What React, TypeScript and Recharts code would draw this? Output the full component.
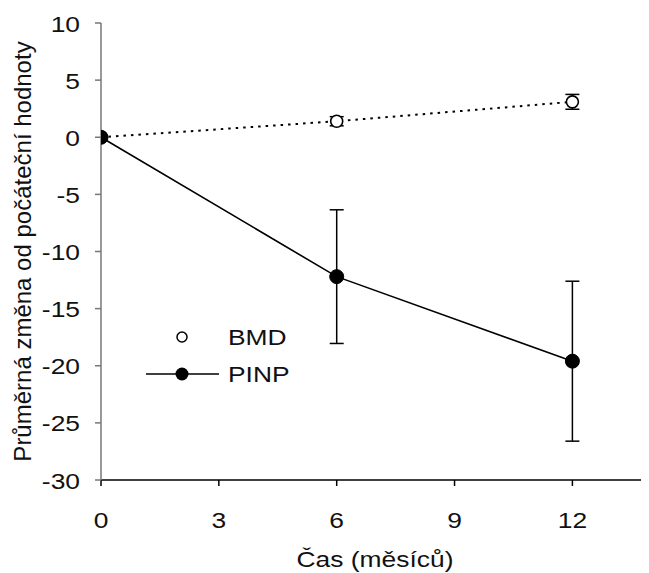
import React from 'react';
import { LineChart, Line, XAxis, YAxis, ErrorBar, Legend } from 'recharts';

const months = [0, 6, 12];
const bmdValues = [0, 1.4, 3.1];
const bmdErrors = [0, 0.4, 0.65];
const pinpValues = [0, -12.2, -19.6];
const pinpErrors = [0, 5.85, 7.0];
const xTicks = [0, 3, 6, 9, 12];
const yTicks = [-30, -25, -20, -15, -10, -5, 0, 5, 10];

const data = months.map((m, i) => ({
  month: m,
  bmd: bmdValues[i],
  bmdErr: bmdErrors[i],
  pinp: pinpValues[i],
  pinpErr: pinpErrors[i],
}));

const FONT = 'Liberation Sans, Arial, sans-serif';
const FS = 22;
const SX = 1.2;

const OpenDot = (props: any) => {
  const { cx, cy } = props;
  return <circle cx={cx} cy={cy} r={6} fill="#fff" stroke="#000" strokeWidth={1.6} />;
};
const FilledDot = (props: any) => {
  const { cx, cy } = props;
  return <circle cx={cx} cy={cy} r={7} fill="#000" stroke="#000" strokeWidth={1} />;
};

const WideText = ({ x, y, anchor, children }: any) => (
  <g transform={`translate(${x},${y}) scale(${SX},1)`}>
    <text x={0} y={0} textAnchor={anchor} fontFamily={FONT} fontSize={FS} fill="#111">
      {children}
    </text>
  </g>
);

const XTick = (props: any) => {
  const { x, y, payload } = props;
  return (
    <WideText x={x} y={y + 40} anchor="middle">
      {payload.value}
    </WideText>
  );
};

const YTick = (props: any) => {
  const { x, y, payload } = props;
  return (
    <WideText x={x} y={y + 8.5} anchor="end">
      {payload.value}
    </WideText>
  );
};

const LegendContent = () => (
  <svg width={220} height={70} style={{ display: 'block', overflow: 'visible' }}>
    <circle cx={44} cy={17} r={5} fill="#fff" stroke="#000" strokeWidth={1.5} />
    <WideText x={90} y={25}>BMD</WideText>
    <line x1={8} y1={54} x2={81} y2={54} stroke="#000" strokeWidth={1.6} />
    <circle cx={44} cy={54} r={6.5} fill="#000" />
    <WideText x={90} y={62}>PINP</WideText>
  </svg>
);

export default function App() {
  return (
    <LineChart
      width={641}
      height={565}
      data={data}
      margin={{ top: 15, right: 0, bottom: 0, left: 0 }}
      style={{ fontFamily: FONT }}
    >
      <XAxis
        dataKey="month"
        type="number"
        domain={[0, 13.95]}
        ticks={xTicks}
        allowDataOverflow
        height={93}
        tickSize={6}
        tickMargin={2}
        stroke="#000"
        strokeWidth={1.5}
        tick={<XTick />}
        tickLine={{ stroke: '#000' }}
        label={{
          content: (props: any) => {
            const vb = props.viewBox || {};
            return (
              <WideText x={vb.x + vb.width / 2} y={vb.y + 87} anchor="middle">
                Čas (měsíců)
              </WideText>
            );
          },
        }}
      />
      <YAxis
        type="number"
        domain={[-30, 10]}
        ticks={yTicks}
        width={93}
        tickSize={6}
        tickMargin={15}
        stroke="#777"
        strokeWidth={1.5}
        tick={<YTick />}
        label={{
          content: (props: any) => {
            const vb = props.viewBox || {};
            const cx = 14;
            const cy = vb.y + vb.height / 2;
            return (
              <text
                x={cx}
                y={cy}
                transform={`rotate(-90 ${cx} ${cy})`}
                textAnchor="middle"
                dominantBaseline="central"
                fontFamily={FONT}
                fontSize={24}
                fill="#111"
              >
                Průměrná změna od počáteční hodnoty
              </text>
            );
          },
        }}
      />
      <Legend
        layout="vertical"
        align="center"
        verticalAlign="middle"
        content={LegendContent}
        wrapperStyle={{ position: 'absolute', left: 130, top: 312, width: 220, height: 70 }}
      />
      <Line
        dataKey="bmd"
        stroke="#000"
        strokeWidth={2}
        strokeDasharray="2.5 5"
        dot={<OpenDot />}
        activeDot={false}
        isAnimationActive={false}
      >
        <ErrorBar dataKey="bmdErr" width={7} stroke="#000" strokeWidth={1.5} direction="y" />
      </Line>
      <Line
        dataKey="pinp"
        stroke="#000"
        strokeWidth={1.6}
        dot={<FilledDot />}
        activeDot={false}
        isAnimationActive={false}
      >
        <ErrorBar dataKey="pinpErr" width={7} stroke="#000" strokeWidth={1.5} direction="y" />
      </Line>
    </LineChart>
  );
}
